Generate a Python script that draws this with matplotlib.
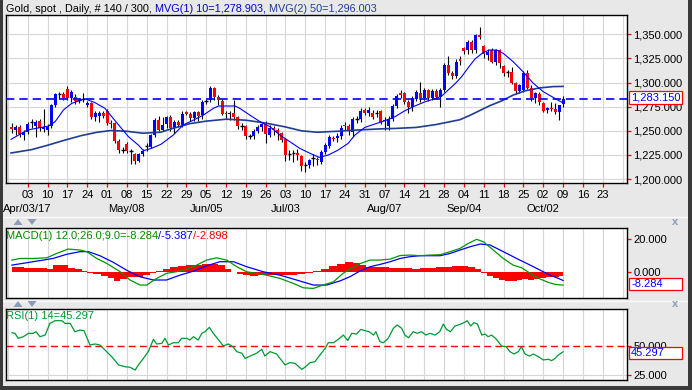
import matplotlib
matplotlib.use("Agg")
import matplotlib.pyplot as plt
import numpy as np
from matplotlib.transforms import Affine2D, blended_transform_factory
from matplotlib.patches import Rectangle, Polygon
from matplotlib.lines import Line2D

plt.rcParams['font.family'] = ['Liberation Sans', 'DejaVu Sans']

# ---------------- data ----------------
bar_index = list(range(-4, 136))   # trading-day index, 0 = Mon Apr 03 2017
opens = [1253.5, 1251, 1254, 1246, 1249, 1259.5, 1255, 1260, 1252, 1251,
         1255, 1276.5, 1288, 1288.5, 1293, 1284, 1285, 1281.5, 1282, 1276.7,
         1278.5, 1264.6, 1265, 1268, 1271, 1258.5, 1257.7, 1239.7, 1230.5, 1236,
         1229.5, 1226, 1219, 1226, 1233.5, 1233.5, 1245.6, 1261, 1250.8, 1257,
         1264.6, 1252.5, 1259.5, 1256, 1269, 1267.5, 1263, 1269.5, 1266, 1280.5,
         1281.9, 1294, 1284.6, 1281.2, 1268.5, 1267, 1268, 1264, 1255.2, 1255,
         1245.5, 1245, 1250, 1253.5, 1257, 1246, 1252.5, 1250.8, 1247.5, 1242,
         1225.5, 1226.5, 1227, 1224, 1214, 1214.5, 1221, 1221, 1218, 1228.5,
         1234, 1243, 1242.5, 1245, 1256, 1255, 1249, 1263, 1262, 1271.5,
         1268.5, 1268.8, 1268, 1271, 1260, 1255, 1262, 1275.7, 1289, 1289,
         1280, 1274.5, 1283, 1288.8, 1283.6, 1292, 1283.6, 1291.5, 1284.6, 1292,
         1318, 1310, 1307, 1324.5, 1335.4, 1333.7, 1342.3, 1333.7, 1349.3, 1337.9,
         1328.5, 1333.7, 1321.6, 1333.7, 1317, 1310, 1311, 1299.8, 1291.5, 1292,
         1309.5, 1294, 1283.6, 1288, 1279, 1272, 1274, 1273, 1269.5, 1277.5]
highs = [1258, 1256, 1256, 1251, 1259, 1262, 1261, 1262, 1273, 1257,
         1278, 1289.5, 1290, 1290, 1296, 1292, 1288, 1284, 1289, 1280.5,
         1280, 1270, 1271, 1270, 1273, 1261, 1259, 1241, 1233, 1238,
         1231, 1227.5, 1227, 1231, 1237, 1247, 1263, 1265, 1264.6, 1265,
         1266, 1261, 1261, 1270, 1270.5, 1269, 1271, 1271, 1282, 1283,
         1296, 1295.5, 1287, 1282.5, 1270, 1271, 1282, 1265, 1258, 1256,
         1247, 1251.5, 1256, 1258, 1260, 1256, 1255, 1253, 1249, 1243,
         1230, 1230, 1231, 1225, 1218, 1221, 1226, 1223, 1230, 1237,
         1246, 1245, 1248, 1256, 1259, 1257, 1264, 1265, 1274, 1274,
         1275, 1272, 1272, 1272, 1264, 1265, 1278, 1288, 1292, 1290,
         1282, 1286, 1292, 1301, 1294, 1293, 1293, 1293, 1294, 1320,
         1327, 1312, 1324, 1328, 1337, 1344, 1344, 1350, 1357.9, 1338.5,
         1335, 1336, 1335, 1335, 1318, 1313, 1316, 1301, 1299, 1312,
         1313, 1297, 1290, 1290, 1280, 1275, 1280, 1279, 1277, 1286]
lows = [1248, 1246, 1244, 1240, 1247, 1253, 1244, 1250, 1249, 1246,
        1253, 1275, 1283, 1282, 1282, 1280, 1278, 1279, 1279.5, 1275,
        1262.5, 1260.5, 1259, 1263, 1256, 1253, 1237.5, 1227, 1226.5, 1227,
        1215.5, 1216, 1218, 1224, 1229, 1232, 1244, 1249.5, 1250, 1253,
        1250, 1248, 1254, 1254, 1266, 1260, 1260, 1260, 1262, 1278,
        1280, 1282, 1276.5, 1266, 1262, 1261, 1261, 1252, 1251, 1242,
        1241, 1242, 1248, 1250, 1237, 1244, 1246, 1240, 1238, 1219,
        1220, 1218, 1220, 1208.5, 1207, 1211, 1214, 1215, 1216, 1226,
        1232, 1239, 1238, 1242, 1251, 1246, 1243.5, 1258, 1259, 1266,
        1265, 1262, 1264, 1257, 1251, 1251, 1260, 1274, 1284, 1278,
        1268, 1270, 1281, 1280, 1282, 1281, 1282, 1283, 1275, 1290,
        1308, 1304, 1305, 1318, 1330, 1330, 1331, 1331, 1345, 1325,
        1323, 1320, 1318, 1315.4, 1307, 1306, 1298, 1288, 1289, 1290,
        1293, 1281, 1279, 1277, 1269, 1268, 1270, 1267, 1261, 1275]
closes = [1251.8, 1253.5, 1246.5, 1249, 1257, 1259, 1259.5, 1252.5, 1253.5, 1254,
          1276.5, 1288, 1288.3, 1284, 1284.5, 1290.5, 1280.5, 1281.8, 1282.5, 1279,
          1264.6, 1268, 1268, 1265.6, 1258.5, 1257.2, 1239.7, 1230, 1229.7, 1229.3,
          1228.8, 1219, 1226, 1229, 1234.2, 1245.6, 1261, 1250.8, 1256, 1263.9,
          1252.5, 1259.5, 1256, 1267, 1267.5, 1263, 1269.5, 1265.6, 1280, 1281.2,
          1294, 1284.6, 1281.9, 1267.4, 1267.6, 1268.8, 1264, 1255, 1255, 1244.6,
          1244.8, 1250, 1253.5, 1257, 1247, 1252.5, 1251, 1247.5, 1240.5, 1225,
          1226.3, 1227, 1225, 1213.5, 1214.8, 1219.7, 1221.5, 1219.5, 1228.3, 1235,
          1244, 1242, 1245, 1252.5, 1255, 1250, 1262, 1262.4, 1270.8, 1268.8,
          1271.5, 1264.6, 1268.5, 1259.5, 1261, 1262, 1275.7, 1286, 1287, 1280,
          1274.5, 1283.6, 1290.5, 1283.6, 1292, 1283.6, 1291.5, 1284.6, 1292.2, 1318,
          1310, 1306.8, 1321.6, 1322, 1332.7, 1342.3, 1333.7, 1349.3, 1347.5, 1329.2,
          1332, 1321.6, 1333.7, 1320, 1309.5, 1310.5, 1299.8, 1291.5, 1297.4, 1309.5,
          1294, 1283.6, 1288.8, 1280, 1270.8, 1274, 1273, 1269.5, 1276.7, 1283.15]
last_price = 1283.15

ma10_idx = [-4.2, -0.1, 5.2, 6.9, 9.0, 11.1, 14.4, 17.0, 19.5, 21.2, 23.3, 25.4, 27.9,
            29.2, 31.2, 33.6, 36.7, 39.2, 41.8, 44.3, 46.8, 48.1, 52.3, 53.5, 56.0,
            58.6, 61.1, 63.6, 66.1, 68.6, 71.2, 73.5, 75.8, 78.3, 80.8, 82.5, 85.0,
            87.5, 90.1, 92.6, 95.1, 97.6, 100.2, 102.7, 104.4, 106.0, 107.7, 109.4,
            111.1, 112.8, 114.9, 116.5, 118.2, 119.9, 122.4, 124.9, 127.5, 130.0,
            132.5, 133.8, 135.0]
ma10_val = [1241.1, 1250.8, 1254.9, 1259.4, 1271.5, 1278.4, 1283.3, 1279.1, 1273.2,
            1264.6, 1254.2, 1243.9, 1235.2, 1229.4, 1231.8, 1236.0, 1245.6, 1256.0,
            1261.1, 1266.3, 1273.2, 1275.7, 1275.7, 1273.2, 1266.3, 1259.4, 1254.2,
            1245.6, 1238.7, 1231.8, 1226.6, 1222.5, 1224.9, 1230.1, 1237.0, 1245.6,
            1253.5, 1257.0, 1260.5, 1264.6, 1270.8, 1275.7, 1280.1, 1283.3, 1286.0,
            1292.2, 1298.5, 1306.0, 1315.5, 1324.5, 1331.3, 1333.7, 1333.7, 1330.3,
            1321.6, 1311.2, 1299.2, 1290.5, 1284.6, 1281.5, 1278.9]

ma50_idx = [-4.2, 1, 5, 9.5, 13.5, 17.5, 21, 25, 29, 33.5, 37, 41, 45, 50, 55, 60, 65,
            69, 73, 78, 83, 89, 93, 98, 103, 106, 109, 111.5, 114, 116.5, 119.5,
            122.4, 125.5, 129.2, 132.5, 135]
ma50_val = [1227, 1230.5, 1235, 1240.5, 1245, 1248.5, 1250.3, 1249.5, 1247.5, 1248.5,
            1253, 1257.5, 1260, 1262, 1261, 1258, 1254, 1250, 1248.5, 1249.5, 1250.8,
            1252, 1252.5, 1253.5, 1256.5, 1259, 1261.5, 1266, 1271, 1276, 1281,
            1287, 1291.5, 1294.5, 1295.8, 1296.0]

macd_idx = [-4.0, -1.9, 1.4, 4.8, 7.3, 10.2, 13.2, 14.9, 17.4, 19.9, 23.3, 25.8, 28.3,
            30.0, 32.5, 35.0, 38.4, 41.8, 45.1, 47.6, 50.2, 52.7, 55.2, 57.7, 60.2,
            63.6, 67.0, 69.5, 72.0, 74.5, 77.1, 79.5, 81.5, 83.8, 86.3, 88.8, 91.4,
            93.9, 96.4, 98.9, 101.4, 104.0, 106.5, 109.0, 111.1, 113.2, 114.9, 117.4,
            119.9, 122.4, 124.5, 126.7, 129.2, 131.3, 133.0, 135.0]
macd_val = [7.2, 8.2, 8.2, 8.6, 11.3, 14.0, 13.4, 12.4, 8.2, 5.2, 0.0, -5.1, -8.2,
            -8.2, -4.1, -1.0, 0.4, 3.1, 7.2, 8.6, 7.2, 3.1, 0.0, -1.0, -2.1,
            -4.1, -7.2, -9.9, -10.3, -8.2, -6.2, -1.0, 2.0, 5.0, 7.2, 7.2, 7.8,
            10.0, 10.3, 9.9, 10.3, 10.5, 12.4, 14.4, 17.5, 20.0, 18.5, 13.4,
            8.2, 4.1, 2.5, -1.0, -4.5, -6.6, -7.8, -8.284]
signal_idx = [-4.0, 1.4, 6.4, 9.7, 13.2, 15.3, 18.2, 21.6, 24.9, 28.3, 31.7, 35.0,
              38.4, 41.8, 45.1, 48.5, 51.9, 55.2, 59.4, 63.6, 67.8, 72.0, 75.4, 78.8,
              81.3, 83.8, 86.3, 88.8, 91.4, 93.9, 96.4, 98.9, 101.4, 104.0, 106.5,
              109.0, 111.5, 114.1, 116.6, 119.1, 121.6, 124.1, 126.7, 129.2, 131.7,
              133.4, 135.0]
signal_val = [4.1, 6.2, 8.2, 10.7, 12.4, 12.4, 9.9, 5.8, 1.0, -3.1, -5.1, -5.1,
              -2.1, 0.4, 3.7, 6.2, 6.2, 3.1, 0.0, -2.1, -5.1, -8.2, -8.2, -5.6,
              -3.0, 0.5, 3.1, 4.5, 6.2, 8.2, 9.3, 9.9, 9.9, 9.9, 11.3,
              13.4, 15.4, 17.1, 16.5, 13.4, 10.3, 7.2, 4.1, 1.0, -2.1,
              -3.7, -5.387]
hist_idx = [-4, -2, 0, 2, 4, 5.5, 7.5, 9.5, 11, 13, 14.5, 15.5, 17.5, 19.5, 21, 22.5,
            24, 26, 28, 30, 31.5, 33, 35, 37, 39, 41, 43, 45, 47, 49, 50.5, 52, 53.5,
            55, 57, 59, 61, 63, 65, 67, 69, 71, 73, 75, 77, 79, 81, 83, 84.5, 86, 88,
            90, 92, 94, 96, 98, 100, 102, 104, 106, 108, 110, 112, 113.5, 115, 116.5,
            118, 119.5, 121, 122.5, 124, 125.5, 127, 128.5, 130, 131.5, 133, 135]
hist_val = [3.0, 2.8, 2.5, 2.5, 2.2, 1.8, 4.1, 4.1, 2.5, 1.5, 0.3, -1.0, -1.5, -2.5,
            -4.0, -5.5, -4.5, -3.0, -3.0, -2.0, -1.0, 0.5, 2.0, 3.2, 3.5, 4.0, 4.0,
            4.5, 4.5, 4.0, 2.0, 0.0, -1.2, -2.2, -2.5, -2.0, -2.0, -2.2, -2.0, -2.0,
            -1.5, -1.0, 0.5, 2.0, 3.5, 5.0, 5.8, 5.5, 4.0, 3.2, 3.0, 2.8, 2.5, 2.5,
            2.2, 2.0, 2.2, 2.5, 3.0, 3.2, 3.5, 3.8, 3.0, 1.5, -0.5, -2.5, -4.0, -5.0,
            -5.5, -5.8, -5.0, -4.5, -5.0, -4.5, -4.0, -3.5, -3.0, -2.898]

rsi_idx = [-4.0, -3.2, -2.4, -1.1, 0.2, 1.4, 2.1, 3.1, 4.4, 5.6, 6.9, 8.6, 9.4, 10.7,
           11.9, 13.2, 14.2, 15.7, 17.0, 18.2, 19.9, 21.2, 22.9, 24.5, 25.8, 27.1,
           27.9, 29.2, 30.4, 31.7, 32.5, 33.8, 34.6, 35.5, 36.7, 38.0, 38.8, 40.1,
           40.9, 41.8, 43.0, 43.9, 44.7, 45.8, 46.8, 48.5, 49.3, 50.6, 51.9, 52.7,
           54.0, 54.8, 56.1, 57.7, 59.0, 59.8, 61.1, 62.8, 63.6, 64.9, 66.1, 67.4,
           69.1, 69.9, 71.2, 72.4, 73.7, 75.0, 75.8, 77.1, 78.3, 79.6, 80.7, 81.7,
           82.9, 84.0, 85.1, 86.1, 87.2, 87.8, 88.8, 89.7, 90.9, 92.2, 93.2, 94.3,
           95.1, 96.0, 97.2, 98.2, 99.3, 100.4, 101.4, 102.7, 103.9, 104.8, 105.6,
           106.6, 107.7, 109.0, 110.3, 110.8, 111.7, 112.5, 113.4, 114.5, 115.3,
           116.1, 117.0, 118.2, 119.5, 120.6, 121.6, 122.6, 123.7, 124.5, 125.4,
           126.5, 127.5, 128.8, 130.0, 131.3, 132.1, 133.0, 133.8, 135.0]
rsi_val = [61.7, 61.2, 56.9, 58.3, 61.2, 61.2, 62.6, 58.3, 59.7, 69.8, 72.1, 72.1, 69.8,
           69.8, 62.6, 64.0, 63.5, 51.1, 52.0, 51.1, 45.4, 41.0, 33.9, 32.4, 31.9, 29.5,
           33.9, 39.6, 45.4, 56.0, 52.0, 52.5, 56.9, 51.1, 53.1, 53.1, 56.9, 56.9,
           55.4, 58.3, 55.4, 61.2, 62.6, 66.3, 61.2, 54.0, 50.3, 52.0, 49.1, 45.4,
           44.0, 39.6, 41.6, 44.0, 47.4, 41.6, 45.4, 43.3, 39.6, 33.9, 35.9, 35.3,
           30.1, 31.9, 35.9, 36.7, 42.5, 48.2, 53.1, 53.1, 56.0, 59.7, 55.0, 61.2,
           60.6, 64.6, 63.5, 62.6, 59.7, 62.6, 54.0, 53.1, 56.9, 65.5, 68.4, 65.5,
           59.7, 57.4, 62.6, 61.2, 62.6, 59.7, 61.2, 59.7, 62.6, 69.2, 64.6,
           62.6, 67.5, 68.9, 70.9, 72.1, 67.5, 70.4, 69.2, 59.7, 60.6,
           58.3, 59.7, 56.0, 50.2, 49.7, 45.4, 43.3, 45.4, 49.7, 43.3,
           41.6, 43.3, 41.0, 38.2, 38.8, 37.6, 39.6, 42.5, 45.297]

monday_idx = list(range(-5, 155, 5))
day_tick_idx = list(range(0, 150, 5))
day_labels = ['03', '10', '17', '24', '01', '08', '15', '22', '29', '05', '12', '19',
              '26', '03', '10', '17', '24', '31', '07', '14', '21', '28', '04', '11',
              '18', '25', '02', '09', '16', '23']
month_idx = [0, 25, 45, 65, 90, 110, 130]
month_labels = ['Apr/03/17', 'May/08', 'Jun/05', 'Jul/03', 'Aug/07', 'Sep/04', 'Oct/02']
price_ticks = [1200, 1225, 1250, 1275, 1300, 1325, 1350]
price_tick_labels = ['1,200.000', '1,225.000', '1,250.000', '1,275.000', '1,300.000',
                     '1,325.000', '1,350.000']
macd_ticks = [0, 20]
macd_tick_labels = ['0.000', '20.000']
rsi_ticks = [25, 50]
rsi_tick_labels = ['25.000', '50.000']
title_parts = [('Gold, spot , Daily, # 140 / 300, ', '#000000'),
               ('MVG(1) 10=1,278.903, ', '#0000CC'),
               ('MVG(2) 50=1,296.003', '#1F3C96')]
macd_title_parts = [('MACD(1) 12.0;26.0;9.0=-8.284', '#008A00'),
                    ('/-5.387', '#0000FF'),
                    ('/-2.898', '#FF0000')]
rsi_title = 'RSI(1) 14=45.297'
price_box = '1,283.150'
macd_box = '-8.284'
rsi_box = '45.297'

# ---------------- layout ----------------
W, H = 692, 390
fig = plt.figure(figsize=(W / 100, H / 100), dpi=100)
fig.patch.set_facecolor('#E8E8E8')
pix = Affine2D().scale(1.0 / W, -1.0 / H).translate(0, 1) + fig.transFigure


def rect(x0, y0, x1, y1):
    return [x0 / W, 1 - y1 / H, (x1 - x0) / W, (y1 - y0) / H]


X0, DX = 27.7, 3.966
XL = ((6 - X0) / DX, (627 - X0) / DX)
GRID = '#D6D6D6'
FS = 8


def style(ax, yt, ylab):
    ax.set_facecolor('white')
    for s in ax.spines.values():
        s.set_color('black')
        s.set_linewidth(1.0)
    ax.set_xlim(*XL)
    for m in monday_idx:
        ax.axvline(m, color=GRID, lw=0.8, zorder=0)
    ax.yaxis.tick_right()
    ax.set_yticks(yt)
    ax.set_yticklabels(ylab)
    ax.tick_params(axis='y', which='both', left=False, right=True, color='red',
                   labelcolor='black', length=3, width=0.9, pad=1.5, labelsize=FS)


main = fig.add_axes(rect(6, 15, 627, 183))
macd_ax = fig.add_axes(rect(6, 228, 627, 298))
rsi_ax = fig.add_axes(rect(6, 309, 627, 380))

# main panel
style(main, price_ticks, price_tick_labels)
main.set_ylim(1195.9, 1370.0)
for p in price_ticks:
    main.axhline(p, color=GRID, lw=0.8, zorder=0)
main.set_xticks(day_tick_idx)
main.set_xticklabels(day_labels)
main.tick_params(axis='x', color='red', length=3, width=0.9, pad=2, labelsize=FS)

x = np.array(bar_index, dtype=float)
o, h, l, c = (np.array(v, dtype=float) for v in (opens, highs, lows, closes))
main.vlines(x, l, h, color='black', lw=0.8, zorder=3)
body_lo = np.minimum(o, c)
body_h = np.abs(c - o)
doji = body_h < 0.8
cols = np.where(c >= o, '#0000FF', '#FF0000')
main.bar(x[~doji], body_h[~doji], bottom=body_lo[~doji], width=0.75,
         color=cols[~doji], edgecolor='none', zorder=4)
main.hlines(c[doji], x[doji] - 0.45, x[doji] + 0.45, color='black', lw=1.0, zorder=4)
main.plot(ma50_idx, ma50_val, color='#1F3C96', lw=1.2, zorder=5)
main.plot(ma10_idx, ma10_val, color='#0000FF', lw=0.8, zorder=5)
main.axhline(last_price, color='#0000FF', lw=1.2, ls=(0, (5, 3)), zorder=6)

# MACD panel
style(macd_ax, macd_ticks, macd_tick_labels)
macd_ax.set_ylim(-16.2, 27.0)
macd_ax.set_xticks([])
macd_ax.fill_between(hist_idx, 0, hist_val, step='mid', color='#FF0000', lw=0, zorder=2)
macd_ax.plot(signal_idx, signal_val, color='#0000FF', lw=0.9, zorder=3)
macd_ax.plot(macd_idx, macd_val, color='#009900', lw=0.9, zorder=3)

# RSI panel
style(rsi_ax, rsi_ticks, rsi_tick_labels)
rsi_ax.set_ylim(20.9, 82.2)
rsi_ax.set_xticks([])
rsi_ax.axhline(25, color=GRID, lw=0.8, zorder=0)
rsi_ax.axhline(50, color='#FF0000', lw=1.0, ls=(0, (5, 3)), zorder=2)
rsi_ax.plot(rsi_idx, rsi_val, color='#009933', lw=0.9, zorder=3)

# month labels below the main panel
mtrans = blended_transform_factory(main.transData, pix)
fig.text(3, 209, month_labels[0], transform=pix, fontsize=FS, ha='left', va='center')
for mi, ml in zip(month_idx[1:], month_labels[1:]):
    fig.text(mi, 209, ml, transform=mtrans, fontsize=FS, ha='center', va='center')

renderer = fig.canvas.get_renderer()


def colored_text(x0, y0, parts, size):
    xx = x0
    for s, col in parts:
        t = fig.text(xx, y0, s, transform=pix, color=col, fontsize=size, ha='left', va='center')
        xx += t.get_window_extent(renderer).width


colored_text(6, 9, title_parts, 7.8)
colored_text(6, 236, macd_title_parts, FS)
fig.text(6, 316, rsi_title, transform=pix, color='#009933', fontsize=FS, ha='left', va='center')


def value_box(y0, y1, s):
    fig.add_artist(Rectangle((629, y0), 53, y1 - y0, transform=pix, facecolor='white',
                             edgecolor='#FF0000', lw=0.9, zorder=10))
    fig.text(631, (y0 + y1) / 2 + 0.5, s, transform=pix, color='#0000FF', fontsize=FS,
             ha='left', va='center', zorder=11)


value_box(91, 103.5, price_box)
value_box(278, 289.5, macd_box)
value_box(346.5, 358.5, rsi_box)

# separator bands with arrows and close marks
ARW = '#8C9BB8'
for yy in (216.5, 300.5):
    fig.add_artist(Line2D([3, 688], [yy, yy], transform=pix, color='#FAFAFA', lw=1.0))
for yy in (222, 304):
    fig.add_artist(Polygon([(13.5, yy + 3), (22.5, yy + 3), (18, yy - 3)], closed=True,
                           transform=pix, facecolor=ARW, edgecolor='none', zorder=12))
    fig.add_artist(Polygon([(27.5, yy - 3), (36.5, yy - 3), (32, yy + 3)], closed=True,
                           transform=pix, facecolor=ARW, edgecolor='none', zorder=12))
    fig.text(675, yy, 'x', transform=pix, color=ARW, fontsize=8,
             ha='center', va='center', weight='bold')

# dark outer frame
for (rx, ry, rw, rh) in ((0, 0, 2.5, 390), (688, 0, 4, 390), (0, 386, 692, 4)):
    fig.add_artist(Rectangle((rx, ry), rw, rh, transform=pix, facecolor='#3A3A3A',
                             edgecolor='none', zorder=20))

fig.savefig('out.png', dpi=100, facecolor=fig.get_facecolor())
